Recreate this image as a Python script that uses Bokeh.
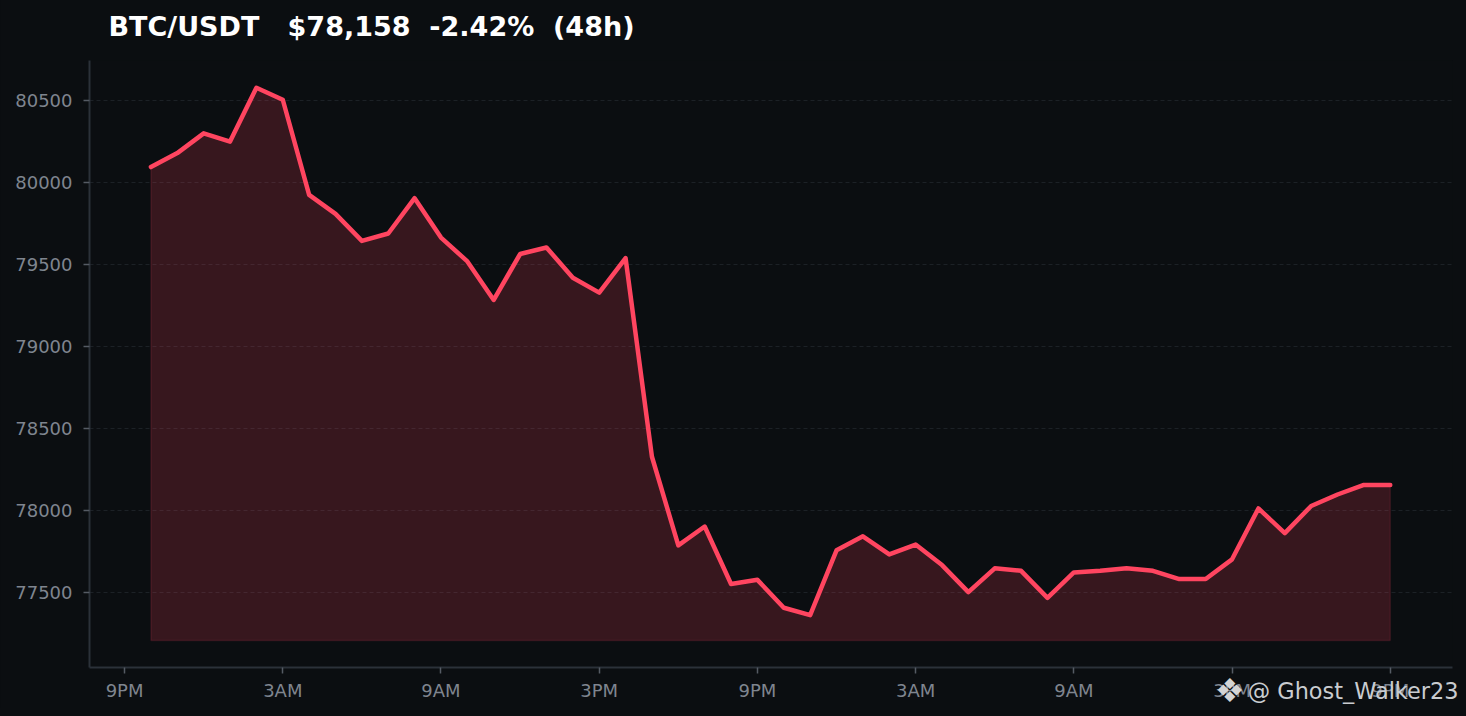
from bokeh.plotting import figure
from bokeh.models import Range1d, FixedTicker, Title
from bokeh.embed import file_html
from bokeh.resources import INLINE

title_text = "BTC/USDT\u00a0\u00a0\u00a0$78,158\u00a0\u00a0-2.42%\u00a0\u00a0(48h)"
watermark = "@ Ghost_Walker23"
icon = "\u2756"
hours = list(range(1, 49))
prices = [80095, 80180, 80300, 80250, 80578, 80505, 79925, 79810, 79645, 79690,
          79905, 79665, 79520, 79285, 79565, 79605, 79420, 79330, 79540, 78330,
          77790, 77905, 77555, 77580, 77410, 77365, 77760, 77845, 77735, 77795,
          77670, 77505, 77650, 77635, 77470, 77625, 77635, 77650, 77635, 77585,
          77585, 77705, 78015, 77865, 78030, 78100, 78158, 78158]
fill_floor = 77211
x_ticks = [0, 6, 12, 18, 24, 30, 36, 42, 48]
x_labels = ["9PM", "3AM", "9AM", "3PM", "9PM", "3AM", "9AM", "3PM", "9PM"]
y_ticks = [77500, 78000, 78500, 79000, 79500, 80000, 80500]

BG = "#0b0e11"
RED = "#ff4560"
GREY = "#7f858f"
SPINE = "#2b3139"

p = figure(width=1466, height=724, output_backend="svg", toolbar_location=None,
           x_range=Range1d(-1.33, 50.36), y_range=Range1d(77046, 80744),
           background_fill_color=BG, border_fill_color=BG,
           min_border_left=89, min_border_right=14, min_border_top=68, min_border_bottom=49,
           title=None)
p.outline_line_color = None
p.xgrid.visible = False
p.ygrid.grid_line_color = SPINE
p.ygrid.grid_line_alpha = 0.55
p.ygrid.grid_line_dash = "4 3"
p.ygrid.grid_line_width = 1

p.xaxis.ticker = FixedTicker(ticks=x_ticks)
p.xaxis.major_label_overrides = dict(zip(x_ticks, x_labels))
p.yaxis.ticker = FixedTicker(ticks=y_ticks)
p.yaxis.formatter.use_scientific = False
p.yaxis.formatter.power_limit_high = 10
for ax in (p.xaxis, p.yaxis):
    ax.axis_line_color = SPINE
    ax.axis_line_width = 2
    ax.major_tick_line_color = "#555b64"
    ax.major_tick_line_width = 1.5
    ax.major_tick_out = 6
    ax.major_tick_in = 0
    ax.minor_tick_line_color = None
    ax.major_label_text_color = GREY
    ax.major_label_text_font = "DejaVu Sans"
    ax.major_label_text_font_size = "18px"
p.xaxis.major_label_standoff = 6
p.yaxis.major_label_standoff = 11

p.patch(hours + hours[::-1], prices + [fill_floor] * len(hours),
        fill_color=RED, fill_alpha=0.18, line_color=RED, line_alpha=0.12, line_width=1.5)
p.line(hours, prices, line_color=RED, line_width=4.5, line_join="round", line_cap="round")

p.add_layout(Title(text=title_text, align="left", vertical_align="top", offset=19, standoff=34,
                   text_color="#ffffff", text_font="DejaVu Sans", text_font_style="bold",
                   text_font_size="27px"), "above")
p.add_layout(Title(text=watermark, align="right", vertical_align="top", offset=-6, standoff=-52,
                   text_color="#c9ccd0", text_font="DejaVu Sans", text_font_style="normal",
                   text_font_size="22.4px"), "below")
p.add_layout(Title(text=icon, align="right", vertical_align="top", offset=208, standoff=-66,
                   text_color="#d4d4d4", text_font="DejaVu Sans", text_font_style="normal",
                   text_font_size="33px"), "below")

html = file_html(p, INLINE)
html = html.replace("</head>", "<style>html,body{background:#0b0e11;overflow:hidden}body{margin-top:-8px !important}</style></head>", 1)
open("out.html", "w").write(html)
